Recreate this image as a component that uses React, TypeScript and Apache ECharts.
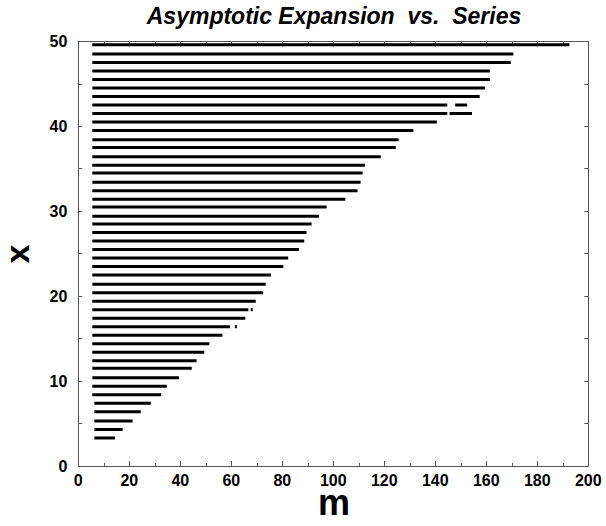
import React, { useEffect, useRef } from "react";
import * as echarts from "echarts";

// Row positions (x), bottom to top
const rowX = [3.3, 4.3, 5.3, 6.4, 7.4, 8.4, 9.4, 10.4, 11.5, 12.4, 13.4, 14.4, 15.4, 16.4, 17.4, 18.4, 19.4, 20.4, 21.4, 22.5, 23.5, 24.5, 25.5, 26.5, 27.5, 28.5, 29.4, 30.5, 31.4, 32.4, 33.4, 34.5, 35.4, 36.4, 37.5, 38.4, 39.5, 40.5, 41.5, 42.5, 43.5, 44.5, 45.5, 46.5, 47.5, 48.5, 49.6];
// Start of each row (m)
const rowStart = [6.3, 6.3, 6.3, 6.3, 6.3, 5.5, 5.5, 5.5, 5.5, 5.5, 5.5, 5.5, 5.5, 5.5, 5.5, 5.5, 5.5, 5.5, 5.5, 5.5, 5.5, 5.5, 5.5, 5.5, 5.5, 5.5, 5.5, 5.5, 5.5, 5.5, 5.5, 5.5, 5.5, 5.5, 5.5, 5.5, 5.5, 5.5, 5.5, 5.5, 5.5, 5.5, 5.5, 5.5, 5.5, 5.5, 5.5];
// End of each row (m)
const rowEnd = [14.4, 17.4, 21.3, 24.5, 28.4, 32.5, 34.7, 39.5, 44.5, 46.4, 49.4, 51.4, 56.5, 59.5, 65.5, 66.7, 69.6, 72.5, 73.5, 75.5, 80.4, 82.3, 86.5, 88.6, 89.5, 91.5, 94.4, 97.4, 104.7, 109.5, 110.7, 111.5, 112.4, 118.6, 124.5, 125.6, 131.4, 140.6, 144.7, 144.7, 157.4, 159.5, 161.4, 161.4, 169.6, 170.6, 192.6];
// Detached pieces: [x, mStart, mEnd]
const extraX = [41.5, 42.5, 18.4, 16.4];
const extraStart = [145.6, 147.8, 67.6, 61.4];
const extraEnd = [154.4, 152.5, 68.4, 62.2];

const xTicks = [0, 20, 40, 60, 80, 100, 120, 140, 160, 180, 200];
const yTicks = [0, 10, 20, 30, 40, 50];

const FONT = "'Liberation Sans', Arial, Helvetica, sans-serif";

export default function App() {
  const ref = useRef<HTMLDivElement>(null);
  useEffect(() => {
    if (!ref.current) return;
    const chart = echarts.init(ref.current, undefined, { renderer: "svg" });
    const segs: number[][] = [];
    rowX.forEach((x, i) => segs.push([x, rowStart[i], rowEnd[i]]));
    extraX.forEach((x, i) => segs.push([x, extraStart[i], extraEnd[i]]));

    const frame = { show: true, lineStyle: { color: "#555", width: 1 } };
    const xCommon = {
      type: "value",
      min: xTicks[0],
      max: xTicks[xTicks.length - 1],
      interval: 20,
      axisLine: { ...frame, onZero: false },
      axisTick: { show: true, inside: true, length: 5, lineStyle: { color: "#555", width: 1 } },
      minorTick: { show: true, splitNumber: 2, length: 3, lineStyle: { color: "#555", width: 1 } },
      splitLine: { show: false },
    };
    const yCommon = {
      type: "value",
      min: yTicks[0],
      max: yTicks[yTicks.length - 1],
      interval: 10,
      axisLine: { ...frame, onZero: false },
      axisTick: { show: true, inside: true, length: 4, lineStyle: { color: "#555", width: 1 } },
      minorTick: { show: true, splitNumber: 2, length: 4, lineStyle: { color: "#555", width: 1 } },
      splitLine: { show: false },
    };

    chart.setOption({
      animation: false,
      backgroundColor: "#fff",
      grid: { left: 78.3, right: 17.7, top: 41.3, bottom: 60, containLabel: false },
      xAxis: [
        {
          ...xCommon,
          position: "bottom",
          axisLabel: { fontSize: 16, fontWeight: "bold", color: "#000", fontFamily: FONT, margin: 6 },
        },
        { ...xCommon, position: "top", axisLabel: { show: false } },
      ],
      yAxis: [
        {
          ...yCommon,
          position: "left",
          axisLabel: { fontSize: 16, fontWeight: "bold", color: "#000", fontFamily: FONT, margin: 11 },
        },
        { ...yCommon, position: "right", axisLabel: { show: false } },
      ],
      graphic: [
        {
          type: "text",
          x: 334,
          y: 16,
          style: {
            text: "Asymptotic Expansion  vs.  Series",
            fontSize: 23,
            lineHeight: 24,
            fontWeight: "bold",
            fontStyle: "italic",
            fontFamily: FONT,
            fill: "#000",
            align: "center",
            verticalAlign: "middle",
          },
        },
        {
          type: "text",
          x: 334,
          y: 502,
          style: {
            text: "m",
            fontSize: 36,
            lineHeight: 24,
            fontWeight: "bold",
            fontFamily: FONT,
            fill: "#000",
            align: "center",
            verticalAlign: "middle",
          },
        },
        {
          type: "text",
          x: 17,
          y: 254,
          rotation: Math.PI / 2,
          style: {
            text: "x",
            fontSize: 34,
            lineHeight: 24,
            fontWeight: "bold",
            fontFamily: FONT,
            fill: "#000",
            align: "center",
            verticalAlign: "middle",
          },
        },
      ],
      series: [
        {
          type: "custom",
          xAxisIndex: 0,
          yAxisIndex: 0,
          encode: { x: [1, 2], y: 0 },
          data: segs,
          renderItem: (params: any, api: any) => {
            const y = api.value(0);
            const p1 = api.coord([api.value(1), y]);
            const p2 = api.coord([api.value(2), y]);
            return {
              type: "line",
              shape: { x1: p1[0], y1: p1[1], x2: p2[0], y2: p2[1] },
              style: { stroke: "#000", lineWidth: 3, lineCap: "butt" },
            };
          },
        },
      ],
    });
    return () => chart.dispose();
  }, []);
  return (
    <div
      ref={ref}
      style={{ position: "absolute", left: 0, top: 0, width: 606, height: 526 }}
    />
  );
}
